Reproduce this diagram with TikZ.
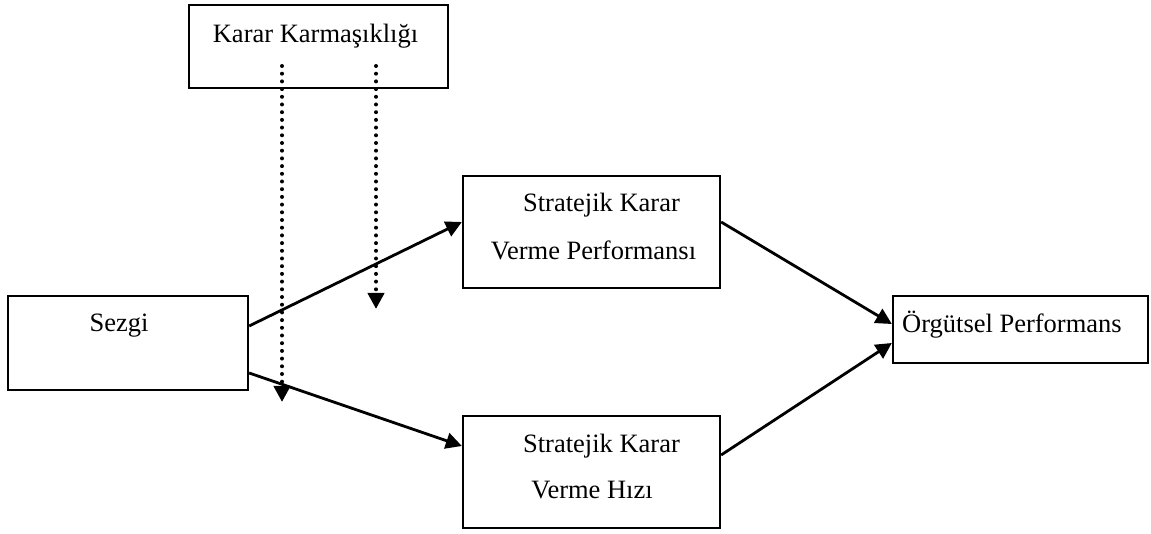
\documentclass[tikz,border=0pt]{standalone}
\usepackage{fontspec}
\setmainfont{Liberation Serif}
\usetikzlibrary{arrows.meta}
\begin{document}
\begin{tikzpicture}[x=1pt,y=-1pt,
  box/.style={draw=black,line width=2.3pt,inner sep=0pt},
  txt/.style={font=\fontsize{26.5}{30}\selectfont,inner sep=0pt,anchor=base},
  arr/.style={line width=2.8pt,-{Triangle[width=16pt,length=16pt]}},
  dotarr/.style={line width=4pt,line cap=round,dash pattern=on 0pt off 7.7pt,-{Triangle[width=16pt,length=16pt]}}]
\useasboundingbox (0,0) rectangle (1151,534);
% boxes
\node[box,minimum width=259pt,minimum height=83pt] (kk) at (318.5,46.5) {};
\node[box,minimum width=240pt,minimum height=94pt] (sz) at (128,343) {};
\node[box,minimum width=257pt,minimum height=112pt] (vp) at (591.5,232) {};
\node[box,minimum width=257pt,minimum height=112pt] (vh) at (591.5,472) {};
\node[box,minimum width=255pt,minimum height=67pt] (op) at (1020.5,329.5) {};
% texts
\node[txt] (tkk) at (315.5,43) {Karar Karmaşıklığı};
\node[txt] (tsz) at (119,332) {Sezgi};
\node[txt] (tvp1) at (601.5,212) {Stratejik Karar};
\node[txt] (tvp2) at (593.5,260) {Verme Performansı};
\node[txt] (tvh1) at (601.5,452) {Stratejik Karar};
\node[txt] (tvh2) at (592,498) {Verme Hızı};
\node[txt,anchor=base west] (top) at (902,333) {Örgütsel Performans};
% coordinates
\coordinate (s1) at (sz.east |- 0,326);
\coordinate (s2) at (sz.east |- 0,373);
\coordinate (p1) at (vp.west |- 0,222);
\coordinate (p2) at (vp.east |- 0,222);
\coordinate (h1) at (vh.west |- 0,446);
\coordinate (h2) at (vh.east |- 0,455);
\coordinate (o1) at (op.west |- 0,324);
\coordinate (o2) at (op.west |- 0,343);
\coordinate (d1s) at (282,66);
\coordinate (d1e) at (282,402);
\coordinate (d2s) at (376,66);
\coordinate (d2e) at (376,309);
% connectors
\draw[arr] (s1) -- (p1);
\draw[arr] (s2) -- (h1);
\draw[arr] (p2) -- (o1);
\draw[arr] (h2) -- (o2);
\draw[dotarr] (d1s) -- (d1e);
\draw[dotarr] (d2s) -- (d2e);
\end{tikzpicture}
\end{document}
